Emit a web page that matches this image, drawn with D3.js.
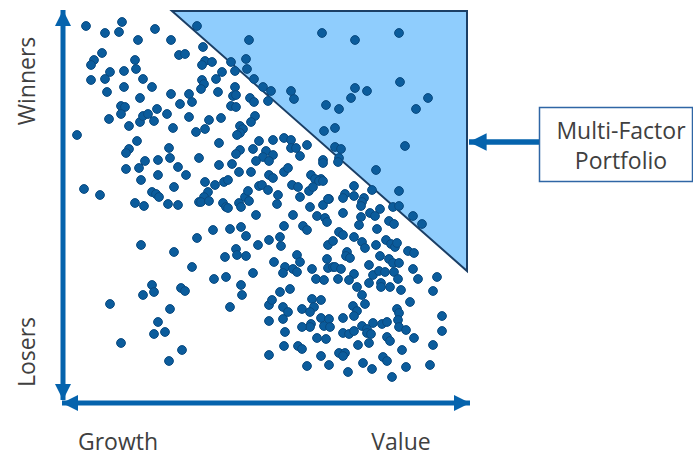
<!DOCTYPE html>
<html>
<head>
<meta charset="utf-8">
<script src="https://cdn.jsdelivr.net/npm/d3@7"></script>
<style>
  html, body { margin: 0; padding: 0; background: #fff; }
  svg { display: block; }
  text { font-family: "Open Sans", "Noto Sans", sans-serif; fill: #404040; }
</style>
</head>
<body>
<svg id="chart" width="693" height="456"></svg>
<script>
// ---- Data (value score on x, momentum score on y) ----
const axisLabelsX = ["Growth", "Value"];
const axisLabelsY = ["Losers", "Winners"];
const calloutLines = ["Multi-Factor", "Portfolio"];
const xDomain = [0, 408];
const yDomain = [0, 390];
// corners of the highlighted "multi-factor" region, in score units
const portfolioRegion = [[110, 389], [405, 389], [405, 129]];
// stocks: [value score, momentum score]
const stocks = [
[24,374],[60,378],[43,367],[57,368],[93,371],[76,360],[109,360],[40,347],[32,340],[29,335],
[73,340],[117,345],[123,346],[48,328],[62,329],[74,331],[29,320],[43,321],[81,321],[45,308],
[62,313],[90,313],[78,302],[109,306],[127,306],[118,296],[130,298],[59,294],[63,293],[95,291],
[135,374],[187,360],[260,367],[141,353],[143,339],[150,338],[140,335],[169,338],[184,341],[185,331],
[160,328],[173,329],[154,321],[140,320],[142,316],[139,311],[156,308],[173,313],[171,304],[174,305],
[192,321],[201,313],[209,309],[229,309],[232,301],[188,302],[192,298],[206,299],[169,294],[174,293],
[264,295],
[293,360],[337,367],[338,318],[293,312],[305,309],[289,302],[366,302],[277,291],[354,291],
[262,269],[273,272],[273,253],[279,251],[343,254],[261,240],[277,242],[276,238],[261,237],[314,230],
[259,221],[292,214],[310,210],[337,209],[267,201],[283,206],[281,202],[292,204],[302,202],[300,198],
[299,194],[318,191],[331,193],[337,194],[261,195],
[47,281],[59,286],[67,274],[78,278],[81,284],[86,286],[92,279],[105,286],[111,272],[127,283],
[134,268],[15,265],[75,259],[67,251],[64,247],[83,239],[96,240],[107,252],[108,242],[137,242],
[64,231],[77,232],[96,225],[116,233],[124,225],[79,220],[112,213],[22,211],[38,205],[90,208],
[94,206],[97,203],[73,197],[82,194],[106,196],[116,195],[137,198],
[147,280],[159,282],[143,271],[193,284],[189,278],[178,274],[181,271],[178,267],[175,265],[157,257],
[197,259],[211,260],[222,262],[229,260],[191,251],[178,250],[174,246],[204,249],[211,245],[201,243],
[207,239],[194,239],[229,252],[234,252],[245,255],[238,244],[157,235],[170,236],[177,228],[189,228],
[222,228],[226,232],[207,225],[211,222],[249,225],[253,221],[257,219],[261,219],[143,218],[153,215],
[162,218],[166,220],[197,214],[200,215],[206,210],[230,215],[236,213],[247,209],[251,213],[146,208],
[142,203],[139,198],[147,199],[161,197],[177,197],[183,203],[186,209],[187,199],[216,205],[215,196],
[238,203],[248,193],[266,201],[164,193],[179,193],
[79,155],[112,148],[135,162],[130,133],[90,115],[81,105],[92,108],[119,112],[123,109],[48,96],[108,91],
[166,192],[194,185],[231,185],[255,184],[263,182],[265,178],[222,174],[241,174],[245,170],[151,170],
[168,171],[179,173],[184,164],[196,155],[207,160],[218,163],[219,154],[174,151],[175,145],[163,143],
[184,144],[266,155],[235,145],[238,138],[212,138],[265,141],[223,133],[221,127],[231,131],[235,128],
[250,131],[266,132],[191,127],[152,121],[164,123],[254,121],[262,120],[179,115],[180,105],[218,108],
[228,111],[168,93],[207,95],[210,100],[221,93],[250,101],[259,100],[252,93],[240,91],
[281,187],[299,183],[308,187],[313,184],[297,175],[327,179],[332,176],[351,184],[360,176],[315,171],
[277,168],[281,165],[292,163],[271,159],[300,158],[303,152],[314,155],[324,160],[329,156],[333,153],
[335,157],[346,149],[352,147],[285,148],[284,144],[288,142],[318,144],[327,141],[331,137],[337,137],
[307,135],[271,133],[273,133],[279,131],[292,126],[311,125],[317,129],[323,128],[332,128],[336,121],
[351,131],[356,121],[375,123],[276,121],[287,120],[295,113],[307,117],[319,117],[319,113],[328,113],
[339,110],[300,105],[371,109],[291,94],[303,96],[348,98],[335,91],
[96,78],[92,66],[103,68],[59,57],[120,50],[107,39],
[226,88],[248,88],[295,89],[292,84],[337,87],[207,79],[221,81],[259,82],[267,81],[249,76],
[248,73],[262,74],[268,73],[281,82],[300,74],[305,71],[311,77],[320,76],[325,78],[336,80],
[337,73],[344,70],[380,84],[380,69],[223,68],[240,73],[281,67],[287,66],[292,69],[305,67],
[309,66],[255,62],[264,61],[325,63],[328,59],[352,62],[307,57],[296,55],[222,54],[236,54],
[240,51],[371,55],[340,50],[207,45],[259,44],[277,47],[283,47],[281,44],[321,43],[325,39],
[245,34],[267,35],[301,37],[310,31],[286,28],[330,23],[344,33],[368,35]
];

// ---- Drawing ----
const svg = d3.select("#chart");
const x = d3.scaleLinear().domain(xDomain).range([62, 470]);
const y = d3.scaleLinear().domain(yDomain).range([400, 10]);

const blue = "#0563ad";

// highlighted triangle
svg.append("polygon")
  .attr("points", portfolioRegion.map(d => [x(d[0]), y(d[1])].join(",")).join(" "))
  .attr("fill", "#8fcdfd")
  .attr("stroke", "#1b3f66")
  .attr("stroke-width", 2)
  .attr("stroke-linejoin", "miter");

// dots
svg.append("g").selectAll("circle").data(stocks).join("circle")
  .attr("cx", d => x(d[0]))
  .attr("cy", d => y(d[1]))
  .attr("r", 4.4)
  .attr("fill", "#0b5c9c")
  .attr("stroke", "#0a4a80")
  .attr("stroke-width", 1);

// arrowhead markers
const defs = svg.append("defs");
defs.append("marker")
  .attr("id", "head")
  .attr("viewBox", "0 0 10 10")
  .attr("refX", 10).attr("refY", 5)
  .attr("markerWidth", 3.4).attr("markerHeight", 3.2)
  .attr("markerUnits", "strokeWidth")
  .attr("orient", "auto-start-reverse")
  .append("path").attr("d", "M0,0 L10,5 L0,10 Z").attr("fill", blue);

// axes as double-headed arrows
const x0 = x(xDomain[0]) + 1, yBase = y(yDomain[0]) + 2;
svg.append("line")
  .attr("x1", x0).attr("y1", y(yDomain[1]))
  .attr("x2", x0).attr("y2", yBase - 2)
  .attr("stroke", blue).attr("stroke-width", 5)
  .attr("marker-start", "url(#head)").attr("marker-end", "url(#head)");
svg.append("line")
  .attr("x1", x0 - 1).attr("y1", yBase + 1)
  .attr("x2", x(xDomain[1])).attr("y2", yBase + 1)
  .attr("stroke", blue).attr("stroke-width", 5)
  .attr("marker-start", "url(#head)").attr("marker-end", "url(#head)");

// axis labels
svg.append("text").attr("x", 118).attr("y", 450).attr("text-anchor", "middle")
  .attr("font-size", 23).text(axisLabelsX[0]);
svg.append("text").attr("x", 401).attr("y", 450).attr("text-anchor", "middle")
  .attr("font-size", 23).text(axisLabelsX[1]);
svg.append("text").attr("transform", "translate(35,352) rotate(-90)").attr("text-anchor", "middle")
  .attr("font-size", 23).text(axisLabelsY[0]);
svg.append("text").attr("transform", "translate(35,81) rotate(-90)").attr("text-anchor", "middle")
  .attr("font-size", 23).text(axisLabelsY[1]);

// callout box
svg.append("rect").attr("x", 539.5).attr("y", 107.5).attr("width", 153).attr("height", 74)
  .attr("fill", "#fff").attr("stroke", "#2f66a5").attr("stroke-width", 1.5);
svg.append("text").attr("x", 621).attr("y", 139).attr("text-anchor", "middle")
  .attr("font-size", 23).text(calloutLines[0]);
svg.append("text").attr("x", 621).attr("y", 169).attr("text-anchor", "middle")
  .attr("font-size", 23).text(calloutLines[1]);

// callout arrow
svg.append("line")
  .attr("x1", 539).attr("y1", 142)
  .attr("x2", 469).attr("y2", 142)
  .attr("stroke", blue).attr("stroke-width", 5.5)
  .attr("marker-end", "url(#head)");
</script>
</body>
</html>
